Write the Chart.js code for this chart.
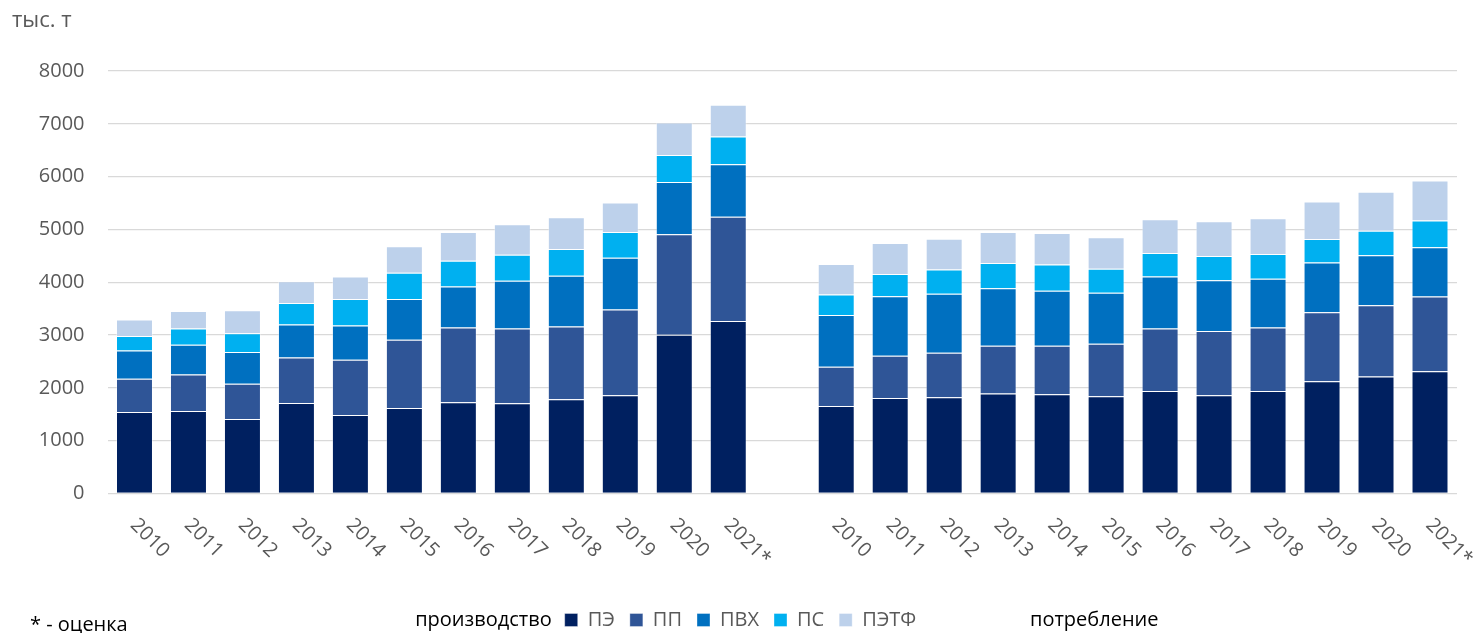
<!DOCTYPE html>
<html>
<head>
<meta charset="utf-8">
<script src="https://cdn.jsdelivr.net/npm/chart.js@4/dist/chart.umd.min.js"></script>
<style>
  html, body { margin: 0; padding: 0; background: #ffffff; }
  #wrap { width: 1479px; height: 633px; position: relative; }
</style>
</head>
<body>
<div id="wrap"><canvas id="c" width="1479" height="633"></canvas></div>
<script>
// Category labels
const years = ["2010","2011","2012","2013","2014","2015","2016","2017","2018","2019","2020","2021*"];
const seriesNames = ["ПЭ","ПП","ПВХ","ПС","ПЭТФ"];
const seriesColors = ["#002060","#2F5597","#0070C0","#00B0F0","#BDD1EB"];
const yTicks = [0,1000,2000,3000,4000,5000,6000,7000,8000];

// Production (производство), thousand tonnes
const prodPE   = [1544,1563,1411,1715,1487,1620,1726,1707,1783,1859,3008,3266];
const prodPP   = [627,690,665,861,1045,1292,1415,1415,1377,1624,1901,1972];
const prodPVC  = [538,564,601,622,647,772,779,905,962,981,988,994];
const prodPS   = [272,305,355,410,505,495,487,494,507,488,514,527];
const prodPETF = [312,334,438,413,426,502,545,578,603,558,614,602];

// Consumption (потребление), thousand tonnes
const consPE   = [1658,1810,1821,1892,1878,1840,1943,1859,1943,2125,2215,2316];
const consPP   = [741,798,844,906,920,996,1179,1217,1198,1307,1350,1414];
const consPVC  = [981,1128,1115,1090,1039,963,988,964,924,944,945,932];
const consPS   = [388,418,463,475,501,456,443,456,469,443,467,505];
const consPETF = [576,589,582,589,595,596,641,660,679,710,736,761];

const prod = [prodPE, prodPP, prodPVC, prodPS, prodPETF];
const cons = [consPE, consPP, consPVC, consPS, consPETF];

const labels = years.concat([""], years);

const datasets = seriesNames.map((name, k) => ({
  label: name,
  data: prod[k].concat([null], cons[k]),
  backgroundColor: seriesColors[k],
  borderColor: "rgba(255,255,255,0.35)",
  borderWidth: 1,
  barPercentage: 0.685,
  categoryPercentage: 1.0
}));

const FONT = "'Open Sans', 'DejaVu Sans', sans-serif";

const extraText = {
  id: "extraText",
  afterDraw(chart) {
    const ctx = chart.ctx;
    const xs = chart.scales.x;
    const area = chart.chartArea;
    ctx.save();
    // rotated x labels
    ctx.fillStyle = "#595959";
    ctx.font = "20px " + FONT;
    ctx.textAlign = "left";
    ctx.textBaseline = "middle";
    labels.forEach((lab, i) => {
      if (!lab) return;
      const x = xs.getPixelForTick(i);
      ctx.save();
      ctx.translate(x - 1, area.bottom + 28.5);
      ctx.rotate(Math.PI / 4);
      ctx.fillText(lab, 0, 0);
      ctx.restore();
    });
    // unit label
    ctx.fillStyle = "#595959";
    ctx.font = "22px " + FONT;
    ctx.textAlign = "left";
    ctx.textBaseline = "alphabetic";
    ctx.fillText("тыс. т", 12, 27);
    // legend-side texts
    ctx.fillStyle = "#000000";
    ctx.font = "20px " + FONT;
    const lg = chart.legend;
    let ly = 619;
    let lx = 553;
    if (lg && lg.legendHitBoxes && lg.legendHitBoxes.length) {
      const hb = lg.legendHitBoxes[0];
      ly = hb.top + hb.height / 2;
      lx = hb.left - 13;
    }
    ctx.textBaseline = "middle";
    ctx.textAlign = "right";
    ctx.fillText("производство", lx, ly);
    ctx.textAlign = "left";
    ctx.fillText("потребление", 1030, ly);
    ctx.textBaseline = "alphabetic";
    ctx.fillText("* - оценка", 30, 631);
    ctx.restore();
  }
};

new Chart(document.getElementById("c"), {
  type: "bar",
  data: { labels, datasets },
  plugins: [extraText],
  options: {
    responsive: false,
    animation: false,
    layout: { padding: { top: 71, right: 22, left: 24, bottom: -7 } },
    plugins: {
      legend: {
        display: true,
        position: "bottom",
        labels: {
          color: "#595959",
          font: { family: FONT, size: 20 },
          boxWidth: 13,
          boxHeight: 13,
          padding: 15
        }
      },
      tooltip: { enabled: false },
      title: { display: false }
    },
    scales: {
      x: {
        stacked: true,
        grid: { display: false },
        border: { display: false },
        ticks: { display: false },
        afterFit(scale) { scale.height = 101.5; }
      },
      y: {
        stacked: true,
        min: 0,
        max: 8000,
        afterBuildTicks(scale) { scale.ticks = yTicks.map(v => ({ value: v })); },
        grid: { color: "#d9d9d9", lineWidth: 1.3, drawTicks: false },
        border: { display: false },
        ticks: {
          color: "#595959",
          font: { family: FONT, size: 20 },
          padding: 23,
          callback: (v) => String(v)
        },
        afterFit(scale) { scale.width = 83.5; }
      }
    }
  }
});
</script>
</body>
</html>
